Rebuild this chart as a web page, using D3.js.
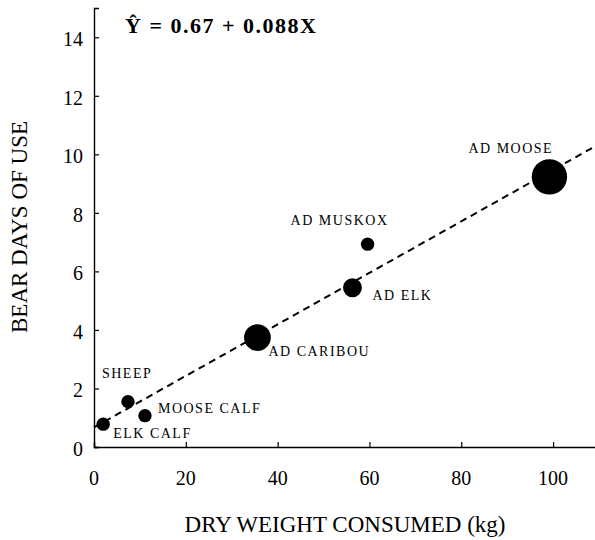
<!DOCTYPE html>
<html>
<head>
<meta charset="utf-8">
<script src="https://cdn.jsdelivr.net/npm/d3@7"></script>
<style>
  body { margin: 0; background: #fff; }
  text { font-family: "Liberation Serif", "Times New Roman", serif; fill: #000; }
</style>
</head>
<body>
<div id="chart"></div>
<script>

// data
var animals = ['ELK CALF', 'SHEEP', 'MOOSE CALF', 'AD CARIBOU', 'AD ELK', 'AD MUSKOX', 'AD MOOSE'];
var dryWeight = [2, 7.4, 11.1, 35.6, 56.3, 59.6, 99.2];
var bearDays = [0.78, 1.55, 1.07, 3.74, 5.44, 6.93, 9.23];
var sampleSize = [1, 1, 1, 4, 2, 1, 7];

var xTicks = [0, 20, 40, 60, 80, 100];
var yTicks = [0, 2, 4, 6, 8, 10, 12, 14];

// regression: Y = 0.67 + 0.088X
var intercept = 0.67;
var slope = 0.088;

var width = 595;
var height = 540;

// label placement relative to each dot (pixels)
var labelOffsets = [
	[10, 14], [-26, -24], [13, -3], [11, 18], [20, 12], [-77, -19], [-81, -24]
];

var svg = d3.select('#chart').append('svg')
			.attr('width', width)
			.attr('height', height)

var xScale = d3.scaleLinear()
	.domain([0, 110])
	.range([94, 599]);

var yScale = d3.scaleLinear()
	.domain([0, 15])
	.range([447, 8]);

var radiusScale = d3.scaleSqrt()
	.domain([0, 7])
	.range([0, 17.7]);

var data = animals.map(function(a, i){
	return {name: a, x: dryWeight[i], y: bearDays[i], n: sampleSize[i], off: labelOffsets[i]};
});

// axes, ticks pointing into the plot
var xAxis = d3.axisTop(xScale).tickValues(xTicks).tickSize(5).tickFormat('');
var yAxis = d3.axisRight(yScale).tickValues(yTicks).tickSize(5).tickFormat('');

var gx = svg.append('g')
	.attr('transform', 'translate(0,' + yScale(0) + ')')
	.call(xAxis);
var gy = svg.append('g')
	.attr('transform', 'translate(' + xScale(0) + ',0)')
	.call(yAxis);

svg.selectAll('.domain')
	.attr('stroke', '#000')
	.attr('stroke-width', 1.4);
svg.selectAll('.tick line')
	.attr('stroke', '#000')
	.attr('stroke-width', 1.2);

// tick labels
svg.selectAll('.xlab')
	.data(xTicks)
	.enter().append('text').classed('xlab', true)
	.attr('x', function(d){ return xScale(d); })
	.attr('y', 485)
	.attr('text-anchor', 'middle')
	.style('font-size', '20px')
	.text(function(d){ return d; });

svg.selectAll('.ylab')
	.data(yTicks)
	.enter().append('text').classed('ylab', true)
	.attr('x', 83)
	.attr('y', function(d){ return yScale(d) + 9; })
	.attr('text-anchor', 'end')
	.style('font-size', '20px')
	.text(function(d){ return d; });

// axis titles
svg.append('text')
	.attr('x', 345)
	.attr('y', 532)
	.attr('text-anchor', 'middle')
	.style('font-size', '23px')
	.text('DRY WEIGHT CONSUMED (kg)');

svg.append('text')
	.attr('transform', 'translate(27,227) rotate(-90)')
	.attr('text-anchor', 'middle')
	.style('font-size', '23px')
	.text('BEAR DAYS OF USE');

// fitted line
var line = d3.line()
	.x(function(d){ return xScale(d); })
	.y(function(d){ return yScale(intercept + slope * d); });

svg.append('path')
	.datum([0, 110])
	.attr('d', line)
	.attr('fill', 'none')
	.attr('stroke', '#000')
	.attr('stroke-width', 2)
	.attr('stroke-dasharray', '7,5');

// dots
svg.selectAll('.circ')
	.data(data)
	.enter().append('circle').classed('circ', true)
	.attr('cx', function(d){ return xScale(d.x); })
	.attr('cy', function(d){ return yScale(d.y); })
	.attr('r', function(d){ return radiusScale(d.n); })
	.attr('fill', '#000');

svg.selectAll('.lbl')
	.data(data)
	.enter().append('text').classed('lbl', true)
	.attr('x', function(d){ return xScale(d.x) + d.off[0]; })
	.attr('y', function(d){ return yScale(d.y) + d.off[1]; })
	.style('font-size', '14px')
	.style('letter-spacing', '1.5px')
	.text(function(d){ return d.name; });

// equation
svg.append('text')
	.attr('x', 125)
	.attr('y', 33)
	.style('font-size', '22px')
	.style('font-weight', 'bold')
	.style('letter-spacing', '1.5px')
	.text('\u0176 = ' + intercept + ' + ' + slope + 'X');

</script>
</body>
</html>
